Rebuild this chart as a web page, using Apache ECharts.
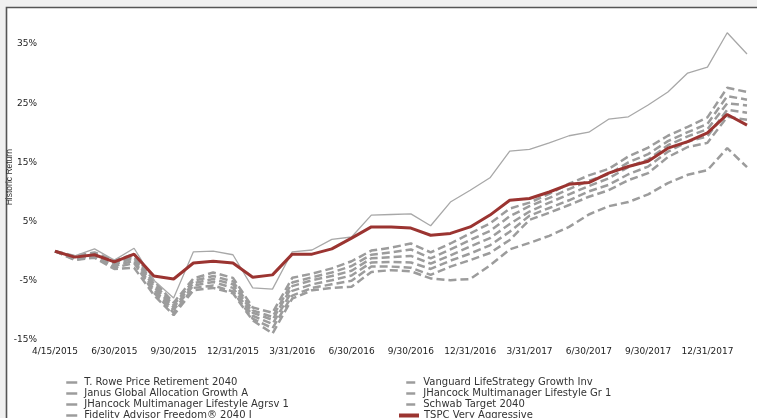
<!DOCTYPE html>
<html>
<head>
<meta charset="utf-8">
<script src="https://cdn.jsdelivr.net/npm/echarts@6/dist/echarts.min.js"></script>
<style>
html,body{margin:0;padding:0;background:#f0f0f0;}
#c{width:757px;height:418px;}
</style>
</head>
<body>
<div id="c"></div>
<script>
const dates = ['4/15/2015','4/30/2015','5/31/2015','6/30/2015','7/31/2015','8/31/2015','9/30/2015','10/31/2015','11/30/2015','12/31/2015','1/31/2016','2/29/2016','3/31/2016','4/30/2016','5/31/2016','6/30/2016','7/31/2016','8/31/2016','9/30/2016','10/31/2016','11/30/2016','12/31/2016','1/31/2017','2/28/2017','3/31/2017','4/30/2017','5/31/2017','6/30/2017','7/31/2017','8/31/2017','9/30/2017','10/31/2017','11/30/2017','12/31/2017','1/31/2018','2/28/2018'];

const tRowe    = [0,-0.8,-0.2,-1.6,-0.5,-5.0,-8.7,-4.6,-3.6,-4.5,-9.5,-10.4,-4.5,-3.8,-2.9,-1.7,0.1,0.6,1.3,-0.2,1.3,3.0,4.7,7.2,8.2,9.7,11.4,12.8,13.9,16.0,17.5,19.5,21.0,22.6,27.6,26.9];
const vanguard = [0,-1.0,-0.5,-1.9,-0.9,-5.5,-9.1,-5.0,-4.2,-5.1,-10.0,-11.1,-5.3,-4.4,-3.6,-2.5,-0.6,-0.2,0.3,-1.2,0.3,1.9,3.4,5.9,7.6,9.0,10.5,11.9,13.0,15.0,16.4,18.6,20.1,21.5,26.2,25.6];
const janus    = [0,-1.1,-0.7,-2.2,-1.2,-6.0,-9.5,-5.4,-4.7,-5.6,-10.4,-11.6,-5.9,-4.9,-4.2,-3.3,-1.2,-1.0,-0.8,-2.1,-0.7,0.8,2.2,4.6,6.7,8.2,9.6,11.0,12.3,14.2,15.5,17.9,19.4,20.6,25.0,24.6];
const jhGr1    = [0,-1.2,-0.9,-2.5,-1.6,-6.5,-9.9,-5.8,-5.2,-6.2,-10.9,-12.3,-6.7,-5.6,-4.9,-4.1,-1.9,-1.8,-1.9,-3.0,-1.6,-0.4,1.0,3.3,6.0,7.3,8.6,10.1,11.2,13.0,14.3,16.8,18.5,19.4,23.9,23.4];
const jhAgrsv  = [0,-0.8,0.4,-1.5,0.5,-4.9,-7.9,-0.1,0.0,-0.6,-6.2,-6.4,-0.1,0.2,2.0,2.4,6.1,6.2,6.3,4.3,8.3,10.3,12.4,16.9,17.2,18.3,19.5,20.1,22.3,22.7,24.7,26.9,30.1,31.1,36.9,33.3];
const schwab   = [0,-1.5,-1.1,-3.0,-2.8,-7.4,-10.8,-6.6,-6.2,-7.1,-11.7,-13.9,-8.0,-6.6,-6.2,-6.0,-3.5,-3.2,-3.4,-4.6,-4.9,-4.7,-2.4,0.3,1.4,2.6,4.1,6.2,7.6,8.3,9.6,11.5,12.9,13.7,17.4,14.2];
const fidelity = [0,-1.4,-1.0,-2.8,-2.0,-7.0,-10.4,-6.2,-5.8,-6.8,-11.4,-13.0,-7.5,-6.2,-5.6,-5.0,-2.6,-2.6,-2.8,-4.0,-2.6,-1.5,-0.3,1.9,5.3,6.5,7.8,9.2,10.3,12.0,13.2,15.9,17.6,18.3,22.7,22.2];
const tspc     = [0,-1.0,-0.6,-1.8,-0.5,-4.2,-4.7,-2.0,-1.7,-2.0,-4.4,-4.0,-0.5,-0.5,0.4,2.2,4.1,4.1,3.9,2.7,3.0,4.1,6.1,8.6,8.9,10.0,11.3,11.6,13.2,14.3,15.2,17.4,18.5,20.0,23.1,21.3];

const yMin = -15, yMax = 40, yStep = 10;

const names = {
  tRowe: 'T. Rowe Price Retirement 2040',
  vanguard: 'Vanguard LifeStrategy Growth Inv',
  janus: 'Janus Global Allocation Growth A',
  jhGr1: 'JHancock Multimanager Lifestyle Gr 1',
  jhAgrsv: 'JHancock Multimanager Lifestyle Agrsv 1',
  schwab: 'Schwab Target 2040',
  fidelity: 'Fidelity Advisor Freedom® 2040 I',
  tspc: 'TSPC Very Aggressive'
};

const GRAY = '#9c9c9c';
const RED = '#9b3431';
const FONT = 'DejaVu Sans';

function dashed(name, data) {
  return { name, type: 'line', data, symbol: 'none', smooth: false,
    itemStyle: { color: GRAY },
    lineStyle: { color: GRAY, width: 2.5, type: [8, 4] } };
}
function thin(name, data) {
  return { name, type: 'line', data, symbol: 'none',
    itemStyle: { color: GRAY },
    lineStyle: { color: '#a8a8a8', width: 1.3, type: 'solid' } };
}

const legendText = { fontFamily: FONT, fontSize: 10, color: '#333', lineHeight: 11 };
const legendBase = { orient: 'vertical', padding: 0, itemGap: 0, height: 80 };
function legItem(name, color, w) {
  return { name,
    itemStyle: { color: color, opacity: 0, borderWidth: 0 },
    lineStyle: { color: color, width: w, type: 'solid', opacity: 1, cap: 'butt' } };
}

const chart = echarts.init(document.getElementById('c'), null, { renderer: 'canvas' });
chart.setOption({
  backgroundColor: '#f0f0f0',
  animation: false,
  graphic: [{
    type: 'rect', z: -10, silent: true,
    shape: { x: 6.5, y: 7.5, width: 800, height: 500 },
    style: { fill: '#ffffff', stroke: '#555', lineWidth: 1.6 }
  }],
  grid: { left: 55, right: 10, top: 14.4, bottom: 78, containLabel: false, outerBoundsMode: 'none' },
  xAxis: {
    type: 'category', boundaryGap: false, data: dates,
    axisLine: { show: false }, axisTick: { show: false }, splitLine: { show: false },
    axisLabel: { interval: 2, fontFamily: FONT, fontSize: 9, color: '#222', margin: 7 }
  },
  yAxis: {
    type: 'value', min: yMin, max: yMax, interval: yStep,
    name: 'Historic Return', nameLocation: 'middle', nameGap: 41, nameMoveOverlap: false,
    nameTextStyle: { fontFamily: 'Liberation Sans', fontSize: 8.5, color: '#333' },
    axisLine: { show: false }, axisTick: { show: false }, splitLine: { show: false },
    axisLabel: {
      fontFamily: FONT, fontSize: 9, color: '#222', margin: 18,
      formatter: v => ((v - yMin) % yStep === 0 ? v + '%' : '')
    }
  },
  legend: [
    Object.assign({}, legendBase, { left: 65, top: 377,
      itemWidth: 11, itemHeight: 3,
      textStyle: Object.assign({ padding: [0, 0, 0, 2] }, legendText),
      data: [legItem(names.tRowe, GRAY, 2.5), legItem(names.janus, GRAY, 2.5), legItem(names.jhAgrsv, GRAY, 2.5), legItem(names.fidelity, GRAY, 2.5)] }),
    Object.assign({}, legendBase, { left: 405, top: 377,
      itemWidth: 9, itemHeight: 3,
      textStyle: Object.assign({ padding: [0, 0, 0, 3] }, legendText),
      data: [legItem(names.vanguard, GRAY, 2.5), legItem(names.jhGr1, GRAY, 2.5), legItem(names.schwab, GRAY, 2.5)] }),
    Object.assign({}, legendBase, { left: 397, top: 410,
      itemWidth: 20, itemHeight: 3,
      textStyle: legendText,
      data: [legItem(names.tspc, RED, 4)] })
  ],
  series: [
    dashed(names.tRowe, tRowe),
    dashed(names.vanguard, vanguard),
    dashed(names.janus, janus),
    dashed(names.jhGr1, jhGr1),
    thin(names.jhAgrsv, jhAgrsv),
    dashed(names.schwab, schwab),
    dashed(names.fidelity, fidelity),
    { name: names.tspc, type: 'line', data: tspc, symbol: 'none', z: 5,
      itemStyle: { color: RED }, lineStyle: { color: RED, width: 3 } }
  ]
});
</script>
</body>
</html>
